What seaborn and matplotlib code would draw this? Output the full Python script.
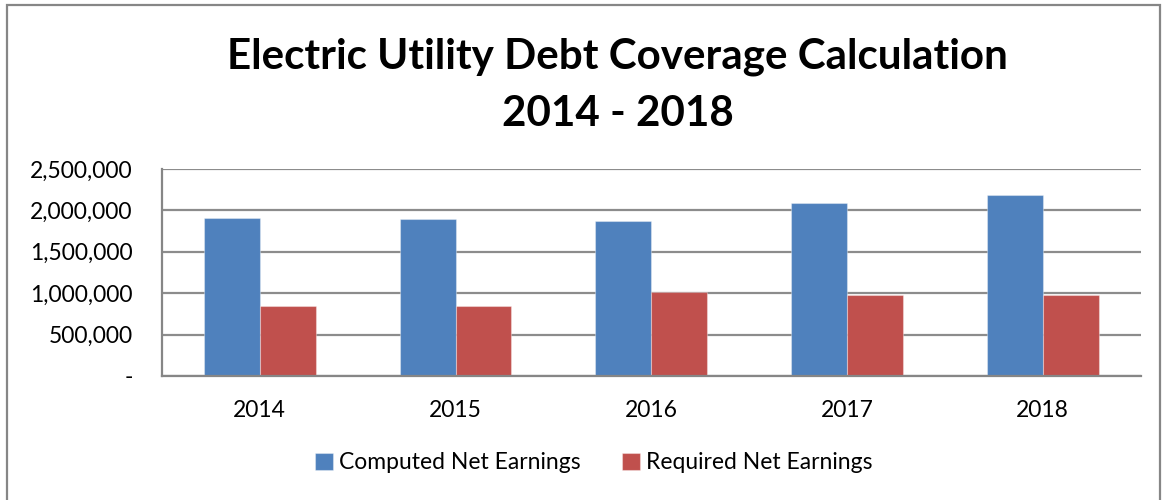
import matplotlib
matplotlib.use("Agg")
import matplotlib.pyplot as plt
import matplotlib.ticker as mticker
from matplotlib.patches import Rectangle
import seaborn as sns
import pandas as pd

years = ["2014", "2015", "2016", "2017", "2018"]
computed = [1911000, 1895000, 1875000, 2085000, 2182000]
required = [843000, 843000, 1009000, 980000, 980000]
series_names = ["Computed Net Earnings", "Required Net Earnings"]
title = "Electric Utility Debt Coverage Calculation\n2014 - 2018"

df = pd.DataFrame({
    "Year": years * 2,
    "Value": computed + required,
    "Series": [series_names[0]] * len(years) + [series_names[1]] * len(years),
})

sns.set_theme(style="white")
plt.rcParams["font.family"] = ["Lato", "DejaVu Sans"]
plt.rcParams["text.color"] = "#000000"

fig = plt.figure(figsize=(11.65, 5.0), dpi=100)
ax = fig.add_axes([0.139, 0.248, 0.840, 0.414])

palette = {series_names[0]: "#4F81BD", series_names[1]: "#C0504D"}
sns.barplot(data=df, x="Year", y="Value", hue="Series", palette=palette,
            width=0.572, ax=ax, saturation=1, legend=True)

for p in ax.patches:
    p.set_edgecolor((1, 1, 1, 0.35))
    p.set_linewidth(0.8)

ax.set_ylim(0, 2500000)
ax.yaxis.set_major_locator(mticker.MultipleLocator(500000))
ax.yaxis.set_major_formatter(mticker.FuncFormatter(lambda v, _: "-" if v == 0 else f"{v:,.0f}"))
ax.grid(axis="y", color="#8c8c8c", linewidth=1.6)
ax.set_axisbelow(True)
for s in ["top", "right"]:
    ax.spines[s].set_visible(False)
for s in ["left", "bottom"]:
    ax.spines[s].set_color("#868686")
    ax.spines[s].set_linewidth(1.6)
ax.tick_params(axis="y", labelsize=16.5, pad=21, length=0, colors="#000000")
ax.tick_params(axis="x", labelsize=16.5, pad=17, length=0, colors="#000000")
ax.set_xlabel("")
ax.set_ylabel("")

leg = ax.legend(loc="center", bbox_to_anchor=(0.441, -0.42), ncol=2,
                frameon=False, fontsize=16.5, handlelength=0.8, handleheight=0.8,
                handletextpad=0.25, columnspacing=1.8)
for t in leg.get_texts():
    t.set_color("#000000")

fig.text(0.530, 0.925, title, ha="center", va="top", fontsize=30.3,
         fontweight="bold", linespacing=1.6, color="#000000")

fig.patches.append(Rectangle((0.006, -0.01), 0.990, 1.0, transform=fig.transFigure,
                             fill=False, edgecolor="#868686", linewidth=1.6))

fig.savefig("out.png", dpi=100)
